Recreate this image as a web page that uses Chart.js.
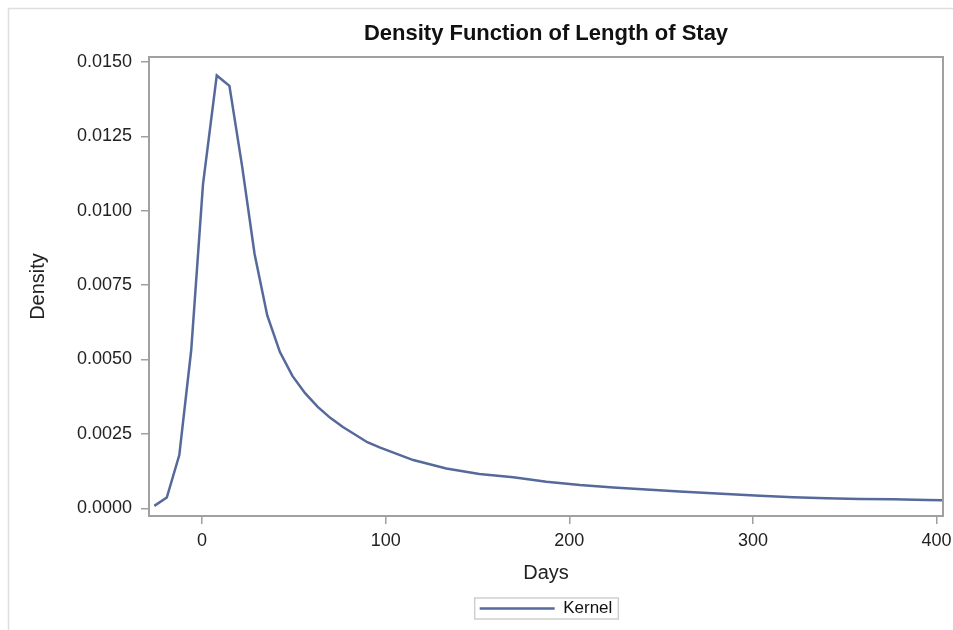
<!DOCTYPE html>
<html>
<head>
<meta charset="utf-8">
<script src="https://cdn.jsdelivr.net/npm/chart.js@4"></script>
<style>
  html, body { margin: 0; padding: 0; background: #fff; }
</style>
</head>
<body>
<canvas id="los-chart" width="953" height="630"></canvas>
<script>
// kernel density estimate of length of stay (days)
var days = [-26.0, -19.2, -12.4, -5.9, 0.5, 8.0, 14.9, 21.8, 28.6, 35.5, 42.4, 49.2, 56.1, 63.0, 69.8, 76.7,
    90.0, 97.0, 115.0, 133.0, 151.0, 169.5, 187.5, 205.8, 224.0, 242.0, 260.0, 285.6, 303.8, 321.9,
    340.0, 358.2, 376.3, 394.5, 403.4];
var density = [0.00008, 0.00036, 0.00179, 0.00532, 0.01089, 0.01455, 0.01420, 0.01150, 0.00855, 0.00648,
    0.00525, 0.00445, 0.00387, 0.00341, 0.00304, 0.00273, 0.00222, 0.00204, 0.00162, 0.00134, 0.00115,
    0.00104, 0.00089, 0.00078, 0.00070, 0.00063, 0.00056, 0.00048, 0.00042, 0.00037, 0.00034, 0.00031,
    0.00030, 0.00028, 0.00027];

var dayTicks = [0, 100, 200, 300, 400];
var densityTicks = [0, 0.0025, 0.005, 0.0075, 0.01, 0.0125, 0.015];

var FONT = "'Liberation Sans', Arial, sans-serif";
var TEXT = '#222';
var AXIS = '#a0a0a0';

// outer frame, plot border and the box round the legend
var frame = {
    id: 'frame',
    beforeDraw: function (chart) {
        var c = chart.ctx;
        c.save();
        c.fillStyle = '#fff';
        c.fillRect(0, 0, chart.width, chart.height);
        c.strokeStyle = '#dedede';
        c.lineWidth = 1.5;
        c.beginPath();
        c.moveTo(8.5, chart.height);
        c.lineTo(8.5, 8.5);
        c.lineTo(chart.width, 8.5);
        c.stroke();
        c.restore();
    },
    afterDraw: function (chart) {
        var c = chart.ctx;
        var a = chart.chartArea;
        c.save();
        c.strokeStyle = AXIS;
        c.lineWidth = 2;
        c.strokeRect(a.left, a.top, a.right - a.left, a.bottom - a.top);
        var hb = chart.legend.legendHitBoxes[0];
        if (hb) {
            c.strokeStyle = '#cfcfcf';
            c.lineWidth = 1.5;
            c.strokeRect(hb.left - 5, hb.top - 2, hb.width + 11, hb.height + 4);
        }
        c.restore();
    }
};

var points = days.map(function (d, i) { return { x: d, y: density[i] }; });

new Chart(document.getElementById('los-chart'), {
    type: 'line',
    data: {
        datasets: [{
            label: 'Kernel',
            data: points,
            borderColor: '#55699b',
            backgroundColor: '#55699b',
            borderWidth: 2.5,
            pointRadius: 0,
            pointStyle: 'line',
            tension: 0,
            fill: false
        }]
    },
    options: {
        responsive: false,
        animation: false,
        layout: { padding: { left: 0, right: 10, top: 0, bottom: 3 } },
        plugins: {
            title: {
                display: true,
                text: 'Density Function of Length of Stay',
                fullSize: false,
                color: '#111',
                font: { family: FONT, size: 22, weight: 'bold' },
                padding: { top: 21, bottom: 9.6 }
            },
            legend: {
                position: 'bottom',
                fullSize: false,
                labels: {
                    usePointStyle: true,
                    pointStyleWidth: 75,
                    padding: 10,
                    color: '#111',
                    font: { family: FONT, size: 17 }
                }
            },
            tooltip: { enabled: false }
        },
        scales: {
            x: {
                type: 'linear',
                min: -28.9,
                max: 403.5,
                afterBuildTicks: function (s) { s.ticks = dayTicks.map(function (v) { return { value: v }; }); },
                afterFit: function (s) { s.height = 74; s.paddingRight = 0; s.paddingLeft = 0; },
                border: { display: false },
                grid: { drawOnChartArea: false, color: AXIS, lineWidth: 1.5, tickLength: 8 },
                ticks: {
                    color: TEXT,
                    padding: 6,
                    font: { family: FONT, size: 18 },
                    callback: function (v) { return v; }
                },
                title: {
                    display: true,
                    text: 'Days',
                    color: TEXT,
                    font: { family: FONT, size: 20 },
                    padding: { top: 0, bottom: 5 }
                }
            },
            y: {
                min: -0.00026,
                max: 0.01517,
                afterBuildTicks: function (s) { s.ticks = densityTicks.map(function (v) { return { value: v }; }); },
                afterFit: function (s) { s.width = 149; },
                border: { display: false },
                grid: { drawOnChartArea: false, color: AXIS, lineWidth: 1.5, tickLength: 8 },
                ticks: {
                    color: TEXT,
                    padding: 9,
                    font: { family: FONT, size: 18 },
                    callback: function (v) { return v.toFixed(4); }
                },
                title: {
                    display: true,
                    text: 'Density',
                    color: TEXT,
                    font: { family: FONT, size: 20 },
                    padding: { top: 26, bottom: 0 }
                }
            }
        }
    },
    plugins: [frame]
});
</script>
</body>
</html>
